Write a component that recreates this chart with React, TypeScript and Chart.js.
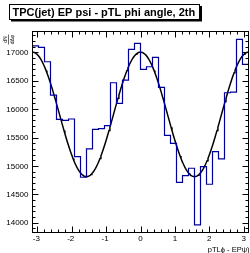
import React, { useEffect, useRef } from "react";
import { Chart, registerables } from "chart.js";

Chart.register(...registerables);

// ---- data ----
const NBINS = 36;
const X_MIN = -Math.PI;
const X_MAX = Math.PI;
const binValues = [
  17116, 17088, 16835, 16248, 15820, 15803, 15826, 15162, 14800, 15298, 15644, 15655,
  15708, 16465, 16102, 16512, 17053, 17158, 16701, 16747, 16912, 16384, 15539, 15398,
  14711, 14828, 14958, 13960, 14986, 14676, 15250, 15122, 16289, 16301, 17229, 16789,
];
// fit: p0 + p1 * cos(2 * x)
const fitParams = [15907, 1097];
const xTickValues = [-3, -2, -1, 0, 1, 2, 3];
const yTickValues = [14000, 14500, 15000, 15500, 16000, 16500, 17000];
const Y_MIN = 13826;
const Y_MAX = 17368;
const titleText = "TPC(jet) EP psi - pTL phi angle, 2th";
const xTitle = "pTLϕ - EPψ)";

const FONT = '"Liberation Sans", Arial, Helvetica, sans-serif';

const histPoints = (() => {
  const w = (X_MAX - X_MIN) / NBINS;
  const pts = binValues.map((v, i) => ({ x: X_MIN + i * w, y: v }));
  pts.push({ x: X_MAX, y: binValues[NBINS - 1] });
  return pts;
})();

const fitPoints = (() => {
  const pts: { x: number; y: number }[] = [];
  const n = 240;
  for (let i = 0; i <= n; i++) {
    const x = X_MIN + ((X_MAX - X_MIN) * i) / n;
    pts.push({ x, y: fitParams[0] + fitParams[1] * Math.cos(2 * x) });
  }
  return pts;
})();

const framePlugin = {
  id: "rootFrame",
  afterDraw(chart: any) {
    const { ctx, chartArea } = chart;
    const xs = chart.scales.x;
    const ys = chart.scales.y;
    const { left, right, top, bottom } = chartArea;
    ctx.save();
    ctx.strokeStyle = "#000";
    ctx.lineWidth = 1;
    ctx.strokeRect(left, top, right - left, bottom - top);

    ctx.beginPath();
    // x ticks
    for (let v = -3.2; v <= 3.2001; v += 0.2) {
      const val = Math.round(v * 10) / 10;
      if (val < X_MIN || val > X_MAX) continue;
      const major = Math.abs(val - Math.round(val)) < 1e-6;
      const len = major ? 6 : 3;
      const px = Math.round(xs.getPixelForValue(val)) + 0.5;
      ctx.moveTo(px, bottom);
      ctx.lineTo(px, bottom - len);
      ctx.moveTo(px, top);
      ctx.lineTo(px, top + len);
    }
    // y ticks
    for (let v = 13900; v <= 17300; v += 100) {
      if (v < Y_MIN || v > Y_MAX) continue;
      const major = v % 500 === 0;
      const len = major ? 6 : 3;
      const py = Math.round(ys.getPixelForValue(v)) + 0.5;
      ctx.moveTo(left, py);
      ctx.lineTo(left + len, py);
      ctx.moveTo(right, py);
      ctx.lineTo(right - len, py);
    }
    ctx.stroke();

    ctx.fillStyle = "#000";
    ctx.font = `8px ${FONT}`;
    ctx.textAlign = "right";
    ctx.textBaseline = "middle";
    yTickValues.forEach((v) => {
      ctx.fillText(String(v), left - 4, ys.getPixelForValue(v) + 0.5);
    });
    ctx.textAlign = "center";
    ctx.textBaseline = "middle";
    xTickValues.forEach((v) => {
      ctx.fillText(String(v), xs.getPixelForValue(v) - (v < 0 ? 1 : 0), bottom + 6.5);
    });

    // x title
    ctx.font = `7.5px ${FONT}`;
    ctx.textAlign = "right";
    ctx.textBaseline = "alphabetic";
    ctx.fillText(xTitle, right + 1, 252);

    // y title (rotated fraction dN / dΔφ)
    ctx.save();
    ctx.translate(8.5, top + 3);
    ctx.rotate(-Math.PI / 2);
    ctx.font = `5px ${FONT}`;
    ctx.textAlign = "center";
    ctx.textBaseline = "alphabetic";
    ctx.fillText("dN", -5, -1.5);
    ctx.fillText("dΔφ", -5, 5);
    ctx.beginPath();
    ctx.moveTo(-10, 0);
    ctx.lineTo(0, 0);
    ctx.lineWidth = 0.6;
    ctx.stroke();
    ctx.restore();

    // title box with shadow
    ctx.fillStyle = "#000";
    ctx.fillRect(11, 6, 191, 15.5);
    ctx.fillStyle = "#fff";
    ctx.fillRect(9.5, 4.5, 190, 15);
    ctx.strokeStyle = "#000";
    ctx.lineWidth = 1;
    ctx.strokeRect(9.5, 4.5, 190, 15);
    ctx.fillStyle = "#000";
    ctx.font = `bold 11px ${FONT}`;
    ctx.textAlign = "left";
    ctx.textBaseline = "alphabetic";
    ctx.fillText(titleText, 12.5, 15.8);

    ctx.restore();
  },
};

export default function App() {
  const ref = useRef<HTMLCanvasElement | null>(null);
  useEffect(() => {
    if (!ref.current) return;
    const chart = new Chart(ref.current, {
      type: "line",
      data: {
        datasets: [
          {
            data: histPoints,
            borderColor: "#000099",
            borderWidth: 1.2,
            pointRadius: 0,
            stepped: "before",
            fill: false,
          },
          {
            data: fitPoints,
            borderColor: "#000000",
            borderWidth: 1.5,
            pointRadius: 0,
            tension: 0,
            fill: false,
          },
        ],
      },
      options: {
        responsive: false,
        animation: false,
        events: [],
        layout: { padding: { left: 32.5, right: 1.5, top: 31.5, bottom: 20.5 } },
        plugins: { legend: { display: false }, tooltip: { enabled: false }, title: { display: false } },
        scales: {
          x: { type: "linear", min: X_MIN, max: X_MAX, display: false },
          y: { type: "linear", min: Y_MIN, max: Y_MAX, display: false },
        },
      },
      plugins: [framePlugin],
    });
    return () => chart.destroy();
  }, []);
  return (
    <div style={{ position: "fixed", left: 0, top: 0, width: 250, height: 253, background: "#fff" }}>
      <canvas ref={ref} width={250} height={253} style={{ display: "block" }} />
    </div>
  );
}
